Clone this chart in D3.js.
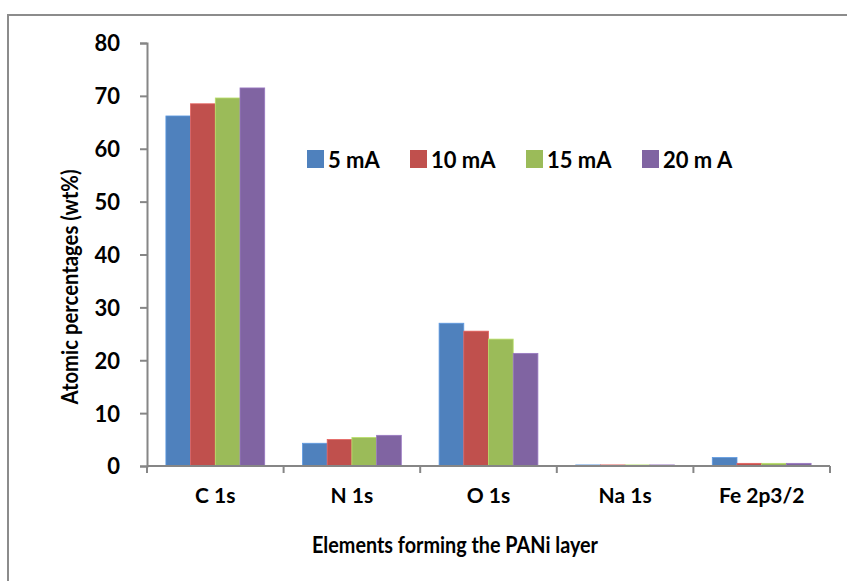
<!DOCTYPE html>
<html>
<head>
<meta charset="utf-8">
<script src="https://cdn.jsdelivr.net/npm/d3@7"></script>
<style>
  html, body { margin: 0; padding: 0; background: #fff; }
  svg { display: block; }
  text { font-family: Lato, "Open Sans", sans-serif; font-weight: bold; fill: #000; }
</style>
</head>
<body>
<svg id="chart" width="847" height="581"></svg>
<script>
// Element categories along the x axis
const categories = ["C 1s", "N 1s", "O 1s", "Na 1s", "Fe 2p3/2"];
// Deposition current series
const seriesNames = ["5 mA", "10 mA", "15 mA", "20 m A"];
const seriesColors = ["#4F81BD", "#C0504D", "#9BBB59", "#8064A2"];
// Atomic percentages (wt%) per series, in category order
const values5mA  = [66.2, 4.3, 27.0, 0.2, 1.6];
const values10mA = [68.5, 5.0, 25.5, 0.2, 0.5];
const values15mA = [69.6, 5.4, 24.0, 0.2, 0.5];
const values20mA = [71.5, 5.8, 21.3, 0.2, 0.5];
const yTicks = [0, 10, 20, 30, 40, 50, 60, 70, 80];

const seriesValues = [values5mA, values10mA, values15mA, values20mA];

const svg = d3.select("#chart");

// Chart frame
svg.append("rect")
  .attr("x", 8).attr("y", 15)
  .attr("width", 900).attr("height", 700)
  .attr("fill", "none")
  .attr("stroke", "#8c8c8c")
  .attr("stroke-width", 2);

const plot = { left: 147, right: 830, top: 43, bottom: 466 };

const y = d3.scaleLinear().domain([0, 80]).range([plot.bottom, plot.top]);
const x0 = d3.scaleBand().domain(categories).range([plot.left, plot.right]).padding(0);
const x1 = d3.scaleBand().domain(seriesNames).range([0, x0.bandwidth()])
  .paddingInner(0).paddingOuter(0.765);

// Bars
const groups = svg.append("g").selectAll("g")
  .data(categories)
  .join("g")
  .attr("transform", d => `translate(${x0(d)},0)`);

groups.selectAll("rect")
  .data((c, ci) => seriesNames.map((s, si) => ({ s, si, v: seriesValues[si][ci] })))
  .join("rect")
  .attr("x", d => x1(d.s))
  .attr("width", x1.bandwidth())
  .attr("y", d => y(d.v))
  .attr("height", d => y(0) - y(d.v))
  .attr("fill", d => seriesColors[d.si])
  .attr("stroke", d => d3.color(seriesColors[d.si]).brighter(0.5))
  .attr("stroke-width", 0.8);

// Y axis
const yAxis = d3.axisLeft(y).tickValues(yTicks).tickSize(7).tickPadding(20)
  .tickFormat(d3.format("d"));
const gy = svg.append("g").attr("transform", `translate(${plot.left},0)`).call(yAxis);
gy.select(".domain").attr("stroke", "#868686").attr("stroke-width", 2);
gy.selectAll(".tick line").attr("stroke", "#868686").attr("stroke-width", 2);
gy.selectAll(".tick text").style("font-size", "22px").attr("dy", "0.36em");

// X axis
const xAxis = d3.axisBottom(x0).tickSize(0).tickPadding(22);
const gx = svg.append("g").attr("transform", `translate(0,${plot.bottom})`).call(xAxis);
gx.select(".domain").remove();
gx.selectAll(".tick text").style("font-size", "21px");
gx.append("line")
  .attr("x1", plot.left).attr("x2", plot.right)
  .attr("stroke", "#868686").attr("stroke-width", 2);
// Category boundary ticks
const bounds = categories.map(c => x0(c)).concat([plot.right]);
gx.selectAll("line.bound")
  .data(bounds)
  .join("line")
  .attr("class", "bound")
  .attr("x1", d => d).attr("x2", d => d)
  .attr("y1", 0).attr("y2", 7)
  .attr("stroke", "#868686").attr("stroke-width", 2);

// Axis titles
svg.append("text")
  .attr("x", 455).attr("y", 553)
  .attr("text-anchor", "middle")
  .style("font-size", "23px")
  .attr("textLength", 286).attr("lengthAdjust", "spacingAndGlyphs")
  .text("Elements forming the PANi layer");

svg.append("text")
  .attr("transform", "translate(78,287) rotate(-90)")
  .attr("text-anchor", "middle")
  .style("font-size", "23px")
  .attr("textLength", 235).attr("lengthAdjust", "spacingAndGlyphs")
  .text("Atomic percentages (wt%)");

// Legend
const legendX = [307, 410, 526, 642];
const legend = svg.append("g").selectAll("g")
  .data(seriesNames)
  .join("g")
  .attr("transform", (d, i) => `translate(${legendX[i]},150)`);
legend.append("rect")
  .attr("width", 17).attr("height", 18)
  .attr("fill", (d, i) => seriesColors[i]);
legend.append("text")
  .attr("x", 21).attr("y", 17.5)
  .style("font-size", "22px")
  .text(d => d);
</script>
</body>
</html>
